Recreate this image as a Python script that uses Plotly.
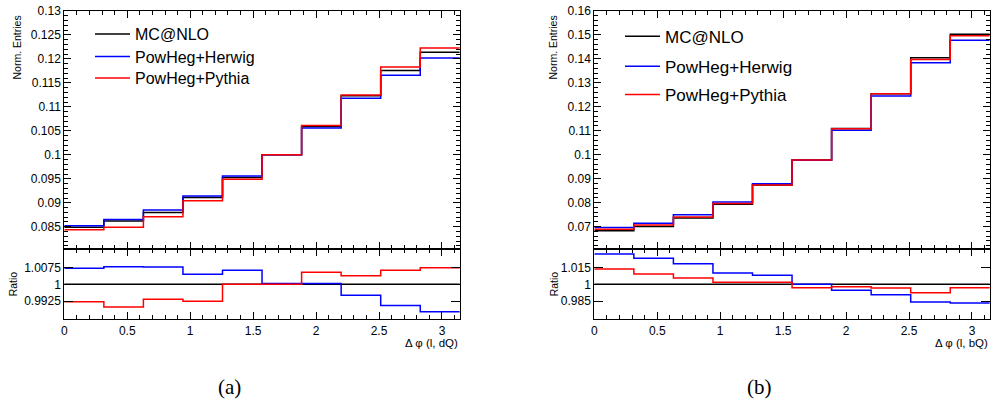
import numpy as np
import plotly.graph_objects as go

# ---------------- data ----------------
n_bins = 10
bin_edges = np.linspace(0, np.pi, n_bins + 1)
series_names = ["MC@NLO", "PowHeg+Herwig", "PowHeg+Pythia"]

# panel (a): Delta phi (l, dQ)
a_mcnlo = [0.0849, 0.0862, 0.0880, 0.0911, 0.0953, 0.1000, 0.1059, 0.1123, 0.1176, 0.1214]
a_herwig = [0.0852, 0.0865, 0.0885, 0.0914, 0.0956, 0.1000, 0.1056, 0.1118, 0.1166, 0.1202]
a_pythia = [0.0844, 0.0849, 0.0871, 0.0904, 0.0949, 0.1000, 0.1061, 0.1125, 0.1183, 0.1223]
a_ratio_mcnlo = [1.0] * 10
a_ratio_herwig = [1.0071, 1.0078, 1.0076, 1.0044, 1.0062, 1.0003, 1.0003, 0.9952, 0.9906, 0.9879]
a_ratio_pythia = [0.9923, 0.9900, 0.9934, 0.9925, 1.0000, 1.0000, 1.0053, 1.0038, 1.0062, 1.0073]

# panel (b): Delta phi (l, bQ)
b_mcnlo = [0.0682, 0.0700, 0.0736, 0.0793, 0.0873, 0.0978, 0.1109, 0.1255, 0.1405, 0.1503]
b_herwig = [0.0696, 0.0714, 0.0749, 0.0802, 0.0879, 0.0977, 0.1102, 0.1245, 0.1384, 0.1478]
b_pythia = [0.0689, 0.0706, 0.0740, 0.0796, 0.0873, 0.0978, 0.1108, 0.1255, 0.1398, 0.1497]
b_ratio_mcnlo = [1.0] * 10
b_ratio_herwig = [1.0267, 1.0229, 1.0182, 1.0100, 1.0080, 1.0000, 0.9947, 0.9908, 0.9844, 0.9835]
b_ratio_pythia = [1.0135, 1.0091, 1.0056, 1.0018, 1.0018, 0.9970, 0.9979, 0.9967, 0.9926, 0.9970]

x_tickvals = [0, 0.5, 1, 1.5, 2, 2.5, 3]
x_ticktext = ["0", "0.5", "1", "1.5", "2", "2.5", "3"]
a_main_tickvals = [0.085, 0.09, 0.095, 0.1, 0.105, 0.11, 0.115, 0.12, 0.125, 0.13]
a_main_ticktext = ["0.085", "0.09", "0.095", "0.1", "0.105", "0.11", "0.115", "0.12", "0.125", "0.13"]
b_main_tickvals = [0.07, 0.08, 0.09, 0.1, 0.11, 0.12, 0.13, 0.14, 0.15, 0.16]
b_main_ticktext = ["0.07", "0.08", "0.09", "0.1", "0.11", "0.12", "0.13", "0.14", "0.15", "0.16"]
a_ratio_tickvals = [0.9925, 1.0, 1.0075]
a_ratio_ticktext = ["0.9925", "1", "1.0075"]
b_ratio_tickvals = [0.985, 1.0, 1.015]
b_ratio_ticktext = ["0.985", "1", "1.015"]

colors = ["#000000", "#0000ff", "#ff0000"]

# ---------------- figure ----------------
W, H = 995, 405
FONT = "Liberation Sans, Arial, Helvetica, sans-serif"


def px_x(p):
    return p / W


def px_y(p):
    return (H - p) / H


fig = go.Figure()


def steps(vals):
    return list(vals) + [vals[-1]]


def add_hists(series, xa, ya, legends=None, width=1.5):
    for i, (name, vals, col) in enumerate(zip(series_names, series, colors)):
        kw = dict(showlegend=False)
        if legends:
            kw = dict(showlegend=True, legend=legends[i])
        fig.add_trace(go.Scatter(
            x=bin_edges, y=steps(vals), mode="lines", line_shape="hv",
            line=dict(color=col, width=width), name=name,
            xaxis=xa, yaxis=ya, hoverinfo="skip", **kw))


add_hists([a_mcnlo, a_herwig, a_pythia], "x", "y", legends=["legend", "legend2", "legend3"])
add_hists([a_ratio_mcnlo, a_ratio_herwig, a_ratio_pythia], "x2", "y2")
add_hists([b_mcnlo, b_herwig, b_pythia], "x3", "y3", legends=["legend4", "legend5", "legend6"])
add_hists([b_ratio_mcnlo, b_ratio_herwig, b_ratio_pythia], "x4", "y4")

left_dom = [px_x(64.3), px_x(459.8)]
right_dom = [px_x(594.3), px_x(989.8)]
main_dom = [px_y(249.3), px_y(11)]
ratio_dom = [px_y(319.3), px_y(249.3)]

tickfont = dict(family=FONT, size=12, color="black")


def xax(domain, anchor, labels):
    return dict(domain=domain, anchor=anchor, range=[0, np.pi], automargin=False,
                showline=True, linecolor="black", linewidth=1, mirror="allticks",
                ticks="inside", ticklen=7, tickcolor="black", tickwidth=1,
                tickvals=x_tickvals, ticktext=x_ticktext,
                showticklabels=labels, tickfont=tickfont,
                minor=dict(dtick=0.1, tick0=0, ticks="inside", ticklen=4, tickcolor="black"),
                showgrid=False, zeroline=False, fixedrange=True)


def yax(domain, anchor, rng, tv, tt, minor_dtick=None, ticklen=7):
    d = dict(domain=domain, anchor=anchor, range=rng, automargin=False,
             showline=True, linecolor="black", linewidth=1, mirror="allticks",
             ticks="inside", ticklen=ticklen, tickcolor="black", tickwidth=1,
             tickvals=tv, ticktext=tt, tickfont=tickfont,
             showgrid=False, zeroline=False, fixedrange=True)
    if minor_dtick:
        d["minor"] = dict(dtick=minor_dtick, tick0=0, ticks="inside", ticklen=4, tickcolor="black")
    return d


def leg(xp, yp, size):
    return dict(x=px_x(xp), y=px_y(yp), xanchor="left", yanchor="middle",
                bgcolor="rgba(0,0,0,0)", borderwidth=0,
                font=dict(family=FONT, size=size, color="black"),
                itemwidth=35)


fig.update_layout(
    width=W, height=H, margin=dict(l=0, r=0, t=0, b=0, autoexpand=False),
    paper_bgcolor="white", plot_bgcolor="white",
    font=dict(family=FONT, color="black"),
    xaxis=xax(left_dom, "y", False),
    yaxis=yax(main_dom, "x", [0.0803, 0.13], a_main_tickvals, a_main_ticktext, 0.001),
    xaxis2=xax(left_dom, "y2", True),
    yaxis2=yax(ratio_dom, "x2", [0.98455, 1.01545], a_ratio_tickvals, a_ratio_ticktext, None, 9),
    xaxis3=xax(right_dom, "y3", False),
    yaxis3=yax(main_dom, "x3", [0.0605, 0.16], b_main_tickvals, b_main_ticktext, 0.002),
    xaxis4=xax(right_dom, "y4", True),
    yaxis4=yax(ratio_dom, "x4", [0.9691, 1.0309], b_ratio_tickvals, b_ratio_ticktext, None, 9),
    legend=leg(90, 34, 16),
    legend2=leg(90, 56.5, 16),
    legend3=leg(90, 78, 16),
    legend4=leg(620, 36.7, 17),
    legend5=leg(620, 66.7, 17),
    legend6=leg(620, 95, 17),
)

ann = []
for cx in (17, 553):
    ann.append(dict(text="Norm. Entries", x=px_x(cx), y=px_y(47.5), xref="paper", yref="paper",
                    xanchor="center", yanchor="middle", textangle=-90, showarrow=False,
                    font=dict(family=FONT, size=10.5, color="black")))
for cx in (13, 554):
    ann.append(dict(text="Ratio", x=px_x(cx), y=px_y(284.3), xref="paper", yref="paper",
                    xanchor="center", yanchor="middle", textangle=-90, showarrow=False,
                    font=dict(family=FONT, size=10.5, color="black")))
for rx, lab in ((459.5, "Δ φ (l, dQ)"), (989.5, "Δ φ (l, bQ)")):
    ann.append(dict(text=lab, x=px_x(rx), y=px_y(343), xref="paper", yref="paper",
                    xanchor="right", yanchor="middle", showarrow=False,
                    font=dict(family=FONT, size=11.5, color="black")))
for cx, lab in ((229, "(a)"), (759, "(b)")):
    ann.append(dict(text=lab, x=px_x(cx), y=px_y(387), xref="paper", yref="paper",
                    xanchor="center", yanchor="middle", showarrow=False,
                    font=dict(family="Liberation Serif, DejaVu Serif, serif", size=21, color="black")))
fig.update_layout(annotations=ann)

fig.write_html("out.html", config={"displayModeBar": False},
               post_script="document.body.style.margin='0';document.body.style.overflow='hidden';")
